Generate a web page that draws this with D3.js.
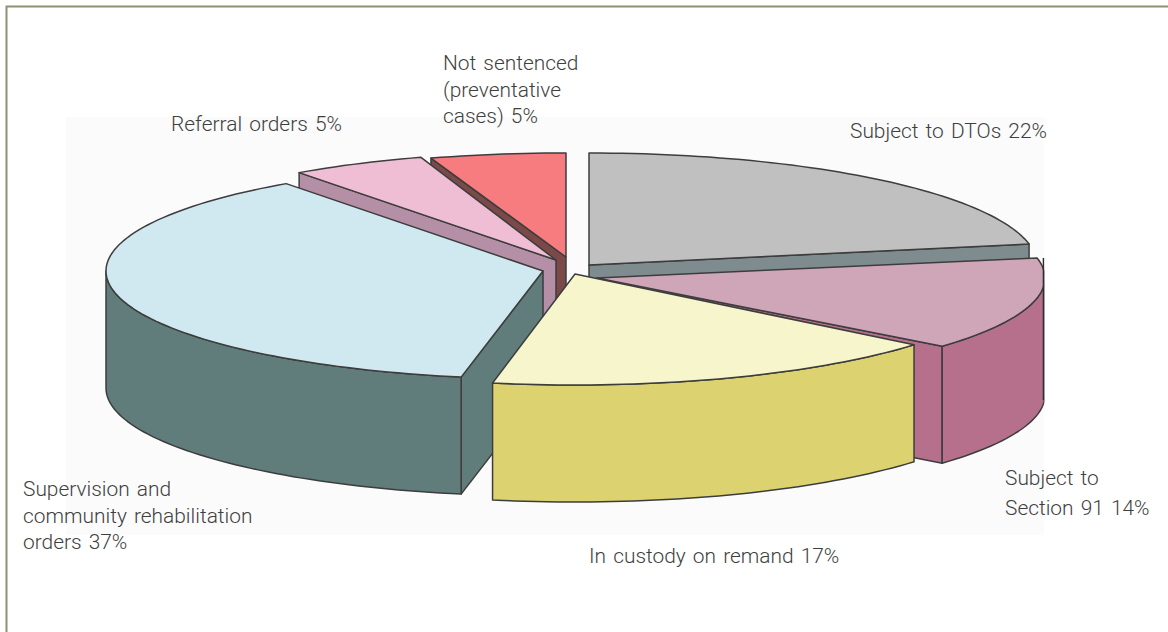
<!DOCTYPE html>
<html>
<head>
<meta charset="utf-8">
<style>
  html, body { margin: 0; padding: 0; background: #fff; }
  svg { display: block; }
  .lbl { font-family: Roboto, sans-serif; font-weight: 300; font-size: 20.9px; word-spacing: 2px; fill: #3f3f3f; }
</style>
<script src="https://cdn.jsdelivr.net/npm/d3@7"></script>
</head>
<body>
<svg id="chart"></svg>
<script>
// clockwise from 12 o'clock
const categories = ["Subject to DTOs", "Subject to Section 91", "In custody on remand",
    "Supervision and community rehabilitation orders", "Referral orders", "Not sentenced (preventative cases)"];
const shares = [22, 14, 17, 37, 5, 5];

const labelLines = [
    ["Subject to DTOs 22%"],
    ["Subject to", "Section 91 14%"],
    ["In custody on remand 17%"],
    ["Supervision and", "community rehabilitation", "orders 37%"],
    ["Referral orders 5%"],
    ["Not sentenced", "(preventative", "cases) 5%"]
];

const topColors = ["#bfc0bf", "#cfa5b8", "#f7f5cb", "#d0e9f1", "#efbdd4", "#f67c80"];
const wallColors = ["#7f8c8f", "#b66f8c", "#dcd370", "#607d7b", "#b48fa5", "#7c4a4a"];

// layout: apex and radii of each exploded slice, and where its label starts
const apex = [[589, 265], [597, 278], [575, 274], [543, 271], [556, 260], [566, 257]];
const radii = [[448, 112], [448, 107], [440, 111], [437, 108], [437, 108], [437, 104]];
const labelAt = [[850, 138], [1005, 485], [589, 563], [23, 496], [171, 131], [443, 70]];
const labelGap = [0, 30, 0, 26.5, 0, 26.5];
const paintOrder = [5, 4, 0, 1, 3, 2];

const width = 1168, height = 632;
const depth = 117, clipRight = 1044.5;

const svg = d3.select("#chart").attr("width", width).attr("height", height);

// page frame and the pale image background
svg.append("rect").attr("x", 66).attr("y", 117).attr("width", 978).attr("height", 418).attr("fill", "#fbfbfb");
svg.append("path").attr("d", `M6.5,${height}V6.5H${width}`)
    .attr("fill", "none").attr("stroke", "#8c9273").attr("stroke-width", 2);

const defs = svg.append("defs");
defs.append("clipPath").attr("id", "plotClip")
    .append("rect").attr("x", 0).attr("y", 0).attr("width", clipRight).attr("height", height);
defs.append("filter").attr("id", "soft")
    .append("feGaussianBlur").attr("stdDeviation", 0.45);

const pie = d3.pie().sort(null).value(d => d)(shares);

// point on the rim of slice i, at pie angle a, dz px below the top face
function rimPoint(i, a, dz) {
    return [apex[i][0] + radii[i][0] * Math.sin(a), apex[i][1] - radii[i][1] * Math.cos(a) + dz];
}

function arcPoints(i, a0, a1, dz) {
    const n = Math.max(2, Math.ceil((a1 - a0) * 40));
    return d3.range(n + 1).map(k => rimPoint(i, a0 + (a1 - a0) * k / n, dz));
}

const line = d3.line();
const pieGroup = svg.append("g").attr("clip-path", "url(#plotClip)")
    .append("g").attr("filter", "url(#soft)");

function face(pts, fill) {
    pieGroup.append("path")
        .attr("d", line(pts) + "Z")
        .attr("fill", fill)
        .attr("stroke", "#3d3d3d")
        .attr("stroke-width", 1.5)
        .attr("stroke-linejoin", "round");
}

function radialWall(i, a) {
    const [x, y] = apex[i];
    const p = rimPoint(i, a, 0);
    face([[x, y], p, [p[0], p[1] + depth], [x, y + depth]], wallColors[i]);
}

paintOrder.forEach(i => {
    const s = pie[i];
    // cut faces that turn towards the viewer
    if (s.startAngle > Math.PI) radialWall(i, s.startAngle);
    if (s.endAngle < Math.PI) radialWall(i, s.endAngle);

    // outer wall, front half of the rim only
    const a0 = Math.max(s.startAngle, Math.PI / 2);
    const a1 = Math.min(s.endAngle, Math.PI * 1.5);
    if (a1 > a0) {
        face(arcPoints(i, a0, a1, 0).concat(arcPoints(i, a0, a1, depth).reverse()), wallColors[i]);
    }

    face([apex[i]].concat(arcPoints(i, s.startAngle, s.endAngle, 0)), topColors[i]);
});

// the image crops the slice that sticks out furthest, with a dark edge along the cut
const cutSlice = 1;
const cutAngle = Math.PI - Math.asin((clipRight - apex[cutSlice][0]) / radii[cutSlice][0]);
pieGroup.append("line")
    .attr("x1", clipRight - 1).attr("x2", clipRight - 1)
    .attr("y1", rimPoint(cutSlice, pie[cutSlice].startAngle, 0)[1])
    .attr("y2", rimPoint(cutSlice, cutAngle, depth)[1])
    .attr("stroke", "#2e2e2e")
    .attr("stroke-width", 1.6);

// labels
labelLines.forEach((lines, i) => {
    const t = svg.append("text").attr("class", "lbl").attr("data-category", categories[i]);
    lines.forEach((txt, k) => {
        t.append("tspan").attr("x", labelAt[i][0]).attr("y", labelAt[i][1] + k * labelGap[i]).text(txt);
    });
});
</script>
</body>
</html>
